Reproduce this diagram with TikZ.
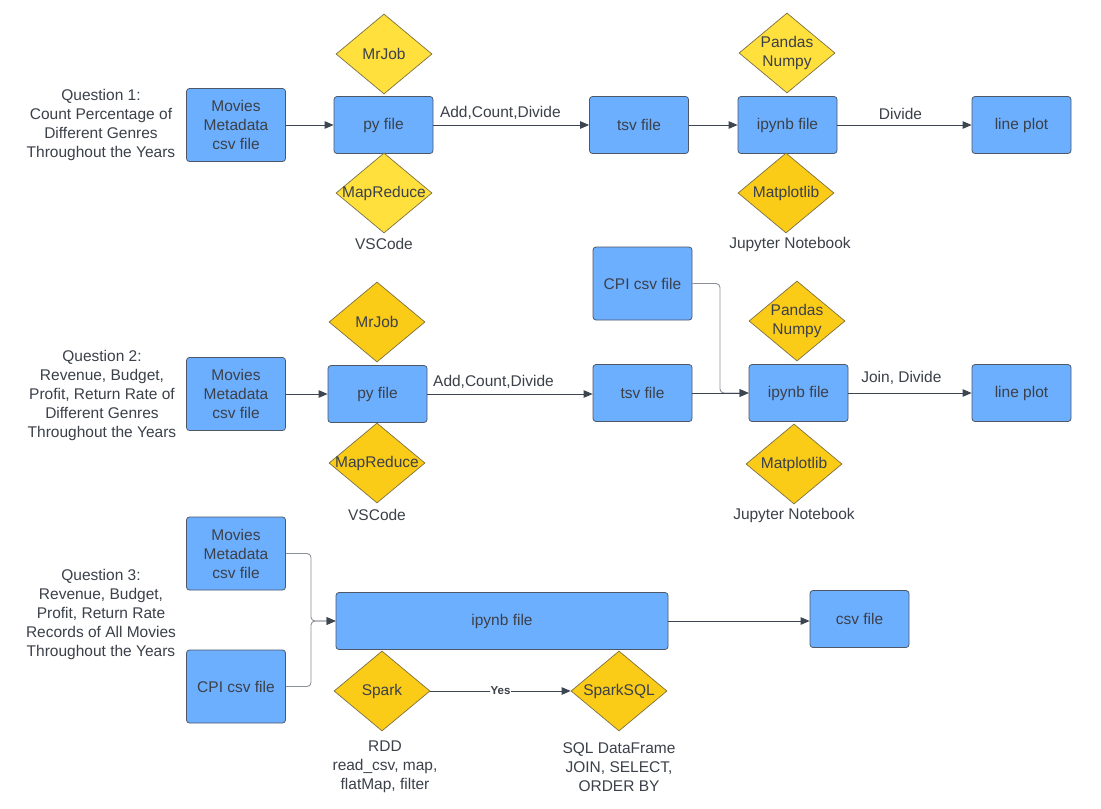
\documentclass[tikz,border=0pt]{standalone}
\usepackage{fontspec}
\setmainfont{Liberation Sans}
\usepackage{xcolor}
\usetikzlibrary{shapes.geometric, arrows.meta}

\definecolor{boxblue}{HTML}{6DAFFF}
\definecolor{boxline}{HTML}{4E5766}
\definecolor{toolA}{HTML}{FFE03D}
\definecolor{toolB}{HTML}{FACB17}
\definecolor{toolline}{HTML}{7D7040}
\definecolor{txt}{HTML}{3B4049}
\definecolor{wire}{HTML}{3C4550}
\definecolor{elbowgray}{HTML}{8C9099}

\begin{document}
\begin{tikzpicture}[
    x=1pt, y=-1pt,
    font=\fontsize{15.5}{19}\selectfont,
    text=txt,
    >={Triangle[length=9pt,width=7.5pt]},
    box/.style={draw=boxline, fill=boxblue, rounded corners=3pt, line width=0.8pt,
                minimum width=99pt, minimum height=57pt, align=center, inner sep=0pt},
    tall/.style={box, minimum height=73pt},
    tool/.style={diamond, draw=toolline, fill=toolB, line width=0.7pt,
                 minimum width=96pt, minimum height=80pt, inner sep=0pt},
    light/.style={fill=toolA},
    note/.style={align=center, inner sep=0pt},
    line/.style={draw=wire, line width=0.9pt, ->},
    elbow/.style={draw=elbowgray, line width=0.9pt, rounded corners=4pt,
                  -{Triangle[length=9pt,width=7.5pt,color=wire]}}
]

% --- RAHMEN ---
\fill[white] (0,0) rectangle (1101,809);
\useasboundingbox (0,0) rectangle (1101,809);

% --- QUESTION 1 ---
\node[note] (q1) at (101,125) {Question 1:\\Count Percentage of\\Different Genres\\Throughout the Years};
\node[tall] (mov1) at (236,125) {Movies\\Metadata\\csv file};
\node[box] (py1) at (383.5,125) {py file};
\node[tool, light, label={[note]center:MrJob}] (mj1) at (384,54) {};
\node[tool, light, label={[note]center:MapReduce}] (mr1) at (384,193) {};
\node[note] (vs1) at (384,244) {VSCode};
\node[box] (tsv1) at (639,125) {tsv file};
\node[box] (ip1) at (787.5,125) {ipynb file};
\node[tool, light, label={[note]center:Pandas\\Numpy}] (pn1) at (787,53) {};
\node[tool, label={[note]center:Matplotlib}] (mp1) at (786,193) {};
\node[note] (jn1) at (790,244) {Jupyter Notebook};
\node[box] (lp1) at (1021.5,125) {line plot};

\draw[line] (mov1) -- (py1);
\draw[line] (py1) -- node[above=2pt, pos=0.43] {Add,Count,Divide} (tsv1);
\draw[line] (tsv1) -- (ip1);
\draw[line] (ip1) -- node[above=2pt, pos=0.47] {Divide} (lp1);

% --- QUESTION 2 ---
\node[note] (q2) at (102,395) {Question 2:\\Revenue, Budget,\\Profit, Return Rate of\\Different Genres\\Throughout the Years};
\node[tall] (mov2) at (236,394) {Movies\\Metadata\\csv file};
\node[box] (py2) at (377.5,394) {py file};
\node[tool, label={[note]center:MrJob}] (mj2) at (377,322) {};
\node[tool, label={[note]center:MapReduce}] (mr2) at (377,463) {};
\node[note] (vs2) at (377,515) {VSCode};
\node[box] (tsv2) at (642.5,393) {tsv file};
\node[tall] (cpi2) at (642.5,283.5) {CPI csv file};
\node[box] (ip2) at (798.5,393) {ipynb file};
\node[tool, label={[note]center:Pandas\\Numpy}] (pn2) at (797,321) {};
\node[tool, label={[note]center:Matplotlib}] (mp2) at (794,464) {};
\node[note] (jn2) at (794,515) {Jupyter Notebook};
\node[box] (lp2) at (1021.5,393) {line plot};

\coordinate (k2) at (720,393);
\draw[line] (mov2) -- (py2);
\draw[line] (py2.east) -- node[above=2pt, pos=0.4] {Add,Count,Divide} (py2.east -| tsv2.west);
\draw[elbow] (cpi2.east) -| (k2) -- (ip2.west);
\draw[line] (tsv2) -- (ip2);
\draw[line] (ip2) -- node[above=5pt, pos=0.43] {Join, Divide} (lp2);

% --- QUESTION 3 ---
\node[note] (q3) at (101,614) {Question 3:\\Revenue, Budget,\\Profit, Return Rate\\Records of All Movies\\Throughout the Years};
\node[tall] (mov3) at (236,553.5) {Movies\\Metadata\\csv file};
\node[tall] (cpi3) at (236,686.5) {CPI csv file};
\node[box, minimum width=332pt] (ip3) at (502,621) {ipynb file};
\node[box] (csv3) at (859.5,619) {csv file};
\node[tool, label={[note]center:Spark}] (sp3) at (382,691) {};
\node[tool, label={[note]center:SparkSQL}] (sq3) at (619,691) {};
\node[note] (rdd) at (385,767) {RDD\\read\_csv, map,\\flatMap, filter};
\node[note] (sql) at (619,767) {SQL DataFrame\\JOIN, SELECT,\\ORDER BY};

\coordinate (m3) at (311,621);
\draw[elbow] (mov3.east) -| (m3) -- (ip3.west);
\draw[elbow] (cpi3.east) -| (m3) -- (ip3.west);
\draw[line] (ip3.east) -- (ip3.east -| csv3.west);
\draw[line] (sp3) -- node[fill=white, inner sep=1pt, font=\bfseries\fontsize{11.5}{13}\selectfont] {Yes} (sq3);

\end{tikzpicture}
\end{document}
